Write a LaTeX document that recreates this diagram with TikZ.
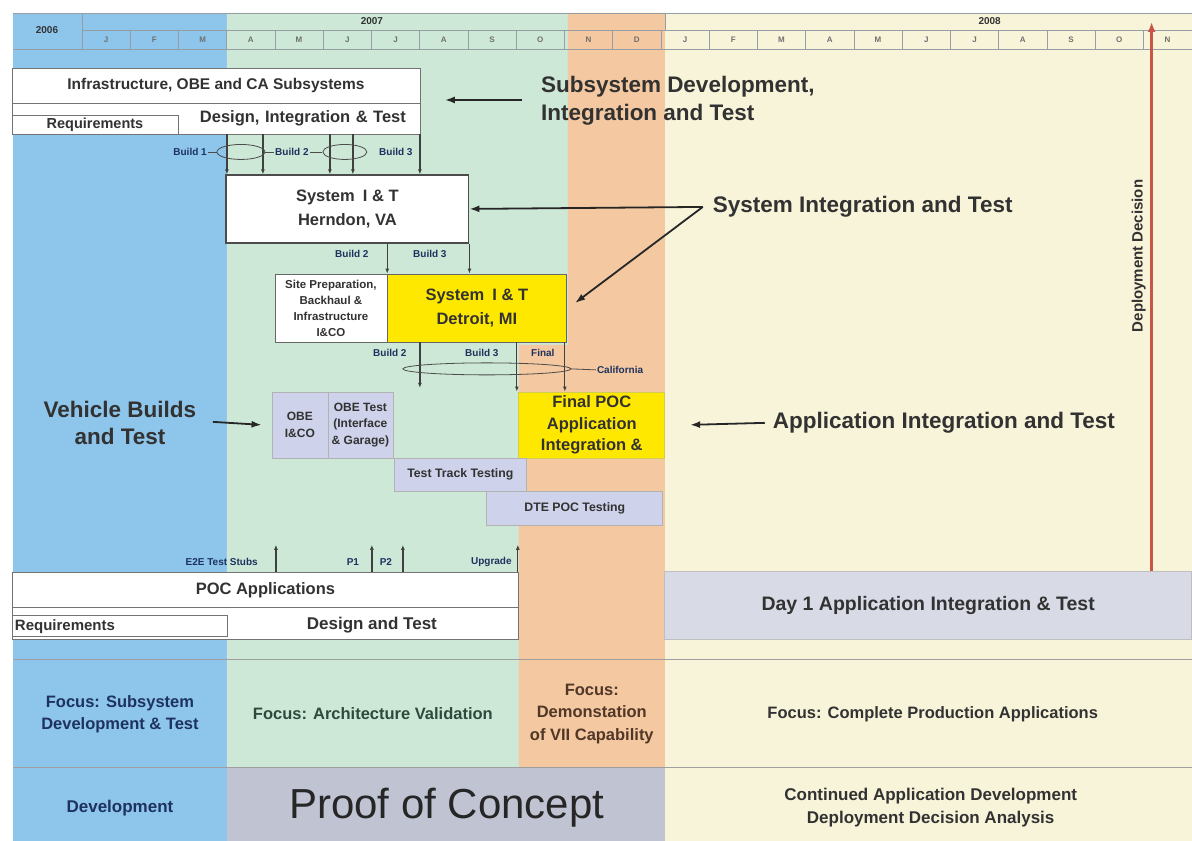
\documentclass[tikz,border=0pt]{standalone}
\usepackage{fontspec}
\setmainfont{Liberation Sans}
\usetikzlibrary{arrows.meta,shapes.geometric}

\definecolor{devblue}{RGB}{142,197,235}
\definecolor{pocgreen}{RGB}{205,232,214}
\definecolor{demoorange}{RGB}{244,200,160}
\definecolor{prodcream}{RGB}{248,244,218}
\definecolor{sysyellow}{RGB}{255,232,0}
\definecolor{testlav}{RGB}{206,210,234}
\definecolor{pocgray}{RGB}{192,196,210}
\definecolor{daygray}{RGB}{216,218,230}
\definecolor{ink}{RGB}{50,50,50}
\definecolor{navyink}{RGB}{30,50,95}
\definecolor{greenink}{RGB}{45,75,60}
\definecolor{brownink}{RGB}{80,55,40}
\definecolor{gridline}{RGB}{150,158,165}
\definecolor{decred}{RGB}{200,85,70}

\begin{document}
\begin{tikzpicture}[x=1pt, y=-1pt,
    every node/.style={text=ink, inner sep=1pt},
    fs/.style 2 args={font=\fontsize{#1}{#2}\selectfont\bfseries},
    wh/.style 2 args={minimum width=#1pt, minimum height=#2pt},
    box/.style={draw=gray!90!black, line width=0.7pt, fill=white, inner sep=0pt, align=center},
    ybox/.style={box, fill=sysyellow, draw=black!60},
    lbox/.style={box, fill=testlav, draw=gray!60},
    bld/.style={line width=1.3pt, black!75, -{Latex[length=5pt,width=4pt]}},
    callout/.style={line width=1.8pt, black!85, -{Latex[length=10pt,width=7pt]}},
    ring/.style={draw=black!70, line width=0.8pt},
    grid/.style={draw=gridline, line width=0.5pt},
    rowline/.style={draw=gray!75, line width=0.8pt},
    blbl/.style={fs={10}{11}, text=navyink},
  ]
  % phase columns
  \fill[white] (0,0) rectangle (1192,841);
  \fill[devblue] (13,13) rectangle (227,841);
  \fill[pocgreen] (227,13) rectangle (568,345) (227,345) rectangle (519,768);
  \fill[demoorange] (568,13) rectangle (665,345) (519,345) rectangle (665,768);
  \fill[prodcream] (665,13) rectangle (1192,841);
  \fill[pocgray] (227,768) rectangle (665,841);

  % time line
  \draw[grid] (13,13) -- (1192,13) (82,30) -- (1192,30) (13,49) -- (1192,49);
  \draw[grid] (82,13) -- (82,49) (665,13) -- (665,30);
  \foreach \m [count=\i from 0] in {J,F,M,A,M,J,J,A,S,O,N,D,J,F,M,A,M,J,J,A,S,O,N} {
    \node[fs={8}{9}, text=ink!70] (mo\i) at ({82+48.26*(\i+0.5)},40) {\m};
    \draw[grid] ({82+48.26*\i},30) -- ({82+48.26*\i},49);
  }
  \node[fs={10}{11}] (yr06) at (47,30) {2006};
  \node[fs={10}{11}] (yr07) at (372,21) {2007};
  \node[fs={10}{11}] (yr08) at (990,21) {2008};

  % subsystem development
  \node[box, wh={408}{35}, fs={15.5}{18}] (infra) at (216,85.5) {Infrastructure, OBE and CA Subsystems};
  \node[box, wh={408}{31}, fs={16.5}{19}, text width=380pt, align=right] (dit) at (216,118.5) {Design, Integration \& Test};
  \node[box, wh={166}{19}, fs={14.5}{16}] (req1) at (95,124.5) {Requirements};

  \node[fs={22.5}{28}, anchor=west, align=left] (ssdi) at (540,101) {Subsystem Development,\\Integration and Test};
  \coordinate (ssdtail) at (522,100);
  \coordinate (ssdtip) at (445,100);
  \draw[callout] (ssdtail) -- (ssdtip);

  % builds into Herndon
  \node[box, wh={243}{68}, fs={16.5}{24}, draw=black!70, line width=1.2pt] (herndon) at (347.5,209) {System\enspace I \& T\\Herndon, VA};
  \foreach \bx in {227,263,330,353,420}
    \draw[bld] (\bx,0 |- dit.south) -- (\bx,0 |- herndon.north);
  \node[ring, ellipse, minimum width=48pt, minimum height=15pt] (ring1) at (241,152) {};
  \node[ring, ellipse, minimum width=44pt, minimum height=15pt] (ring2) at (345,152) {};
  \node[blbl, anchor=east] (b1) at (208,152) {Build 1};
  \node[blbl] (b2) at (292,152) {Build 2};
  \node[blbl] (b3) at (396,152) {Build 3};
  \draw[ring] (b1.east) -- (ring1.west);
  \draw[ring] (ring1.east) -- (b2.west);
  \draw[ring] (b2.east) -- (ring2.west);

  % Detroit
  \node[box, wh={112}{68}, fs={11.5}{16}, draw=black!60] (site) at (331,308) {Site Preparation,\\Backhaul \&\\Infrastructure\\I\&CO};
  \node[ybox, wh={180}{68}, fs={16.5}{24}] (detroit) at (477,308) {System\enspace I \& T\\Detroit, MI};
  \node[blbl] (hb2) at (352,254) {Build 2};
  \node[blbl] (hb3) at (430,254) {Build 3};
  \draw[bld] (site.north east |- herndon.south) -- (site.north east);
  \draw[bld] (herndon.south east) -- (herndon.south east |- detroit.north);

  \node[fs={22.5}{26}, anchor=west] (sit) at (712,207) {System Integration and Test};
  \coordinate (sitfork) at (703,207);
  \draw[callout] (sitfork) -- (herndon.east);
  \draw[callout] (sitfork) -- ([xshift=8pt,yshift=5pt]detroit.east);

  % vehicle builds and applications
  \node[lbox, wh={56}{66}, fs={12}{16.5}] (obe) at (300,425) {OBE\\I\&CO};
  \node[lbox, wh={65}{66}, fs={12}{16.5}] (obetest) at (360.5,425) {OBE Test\\(Interface\\\& Garage)};
  \node[ybox, wh={146}{66}, fs={16.5}{21.5}, draw=yellow!60!gray] (finalpoc) at (592,425) {Final POC\\Application\\Integration \&};
  \node[lbox, wh={133}{34}, fs={12.3}{14}] (track) at (460.5,475) {Test Track Testing};
  \node[lbox, wh={176}{34}, fs={12.3}{14}] (dte) at (575,509) {DTE POC Testing};

  \node[blbl] (db2) at (390,353) {Build 2};
  \node[blbl] (db3) at (482,353) {Build 3};
  \node[blbl] (dfin) at (543,353) {Final};
  \coordinate (b2end) at (420,388);
  \draw[bld] (420,0 |- detroit.south) -- (b2end);
  \draw[bld] (517,0 |- detroit.south) -- (517,0 |- finalpoc.north);
  \draw[bld] (565,0 |- detroit.south) -- (565,0 |- finalpoc.north);
  \node[ring, ellipse, minimum width=168pt, minimum height=12pt] (ring3) at (487,369) {};
  \node[blbl, anchor=west] (cal) at (596,370) {California};
  \draw[ring] (ring3.east) -- (cal.west);

  \node[fs={22.5}{27}, align=center] (vbt) at (120,423) {Vehicle Builds\\and Test};
  \coordinate (vbttail) at (213,422);
  \draw[callout] (vbttail) -- ([xshift=-10pt]obe.west);
  \node[fs={22.5}{26}, anchor=west] (ait) at (772,423) {Application Integration and Test};
  \draw[callout] ([xshift=-7pt]ait.west) -- ([xshift=25pt]finalpoc.east);

  % POC applications
  \node[box, wh={507}{35}, fs={16.5}{19}] (pocapp) at (265.5,590.5) {POC Applications};
  \node[box, wh={507}{32}] (dat) at (265.5,624) {};
  \node[fs={17}{19}] (dattxt) at (372,625) {Design and Test};
  \node[box, wh={215}{21}, fs={15}{17}, text width=209pt, align=left] (req2) at (119.5,626.5) {Requirements};
  \foreach \ax/\nm in {276/stubs,372/pone,403/ptwo,518/upg} {
    \coordinate (\nm) at (\ax,545);
    \draw[bld] (\ax,0 |- pocapp.north) -- (\nm);
  }
  \node[blbl, anchor=east] (stubslbl) at (259,562) {E2E Test Stubs};
  \node[blbl] (ponelbl) at (353,562) {P1};
  \node[blbl] (ptwolbl) at (386,562) {P2};
  \node[blbl, anchor=east] (upglbl) at (513,562) {Upgrade};

  \node[box, wh={527}{68}, fs={19.5}{22}, fill=daygray, draw=gray!50] (day1) at (928.5,606) {Day 1 Application Integration \& Test};
  \coordinate (decision) at (1152,22);
  \draw[decred, line width=2.5pt, -{Latex[length=10pt,width=8pt]}] (1152,0 |- day1.north) -- (decision);
  \node[fs={15}{17}, rotate=90] (declbl) at (1139,256) {Deployment Decision};

  % focus and phase rows
  \draw[rowline] (13,660) -- (1192,660) (13,768) -- (1192,768);
  \node[fs={16.5}{22}, text=navyink, align=center] (fdev) at (120,714) {Focus: Subsystem\\Development \& Test};
  \node[fs={16.5}{19}, text=greenink] (farch) at (373,714) {Focus: Architecture Validation};
  \node[fs={16.5}{22.5}, text=brownink, align=center] (fdemo) at (592,714) {Focus:\\Demonstation\\of VII Capability};
  \node[fs={16.5}{19}] (fprod) at (933,714) {Focus: Complete Production Applications};
  \node[fs={17}{19}, text=navyink] (phdev) at (120,808) {Development};
  \node[font=\fontsize{42}{46}\selectfont, text=black!85] (phpoc) at (447,808) {Proof of Concept};
  \node[fs={17}{23}, align=center] (phcont) at (931,808) {Continued Application Development\\Deployment Decision Analysis};
\end{tikzpicture}
\end{document}
